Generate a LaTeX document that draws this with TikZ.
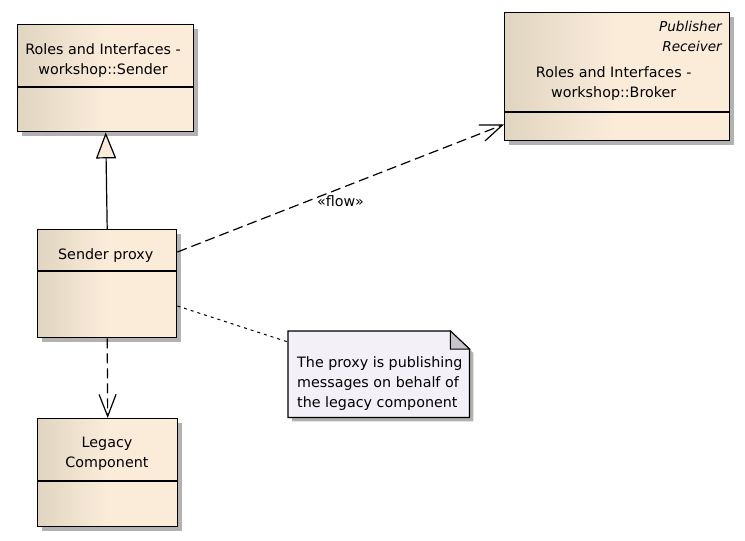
\documentclass[tikz,border=0pt]{standalone}
\usepackage{fontspec}
\setmainfont{DejaVu Sans}
\usepackage{xcolor}
\usetikzlibrary{arrows.meta}
\usetikzlibrary{shadows}
\usetikzlibrary{calc}

\definecolor{clsleft}{HTML}{E0D5C1}
\definecolor{clsright}{HTML}{FBECDA}
\definecolor{notefill}{HTML}{F4F0F7}
\definecolor{notefold}{HTML}{C8C4CC}
\definecolor{shadowgray}{HTML}{B2B2B2}

\begin{document}
\begin{tikzpicture}[x=1pt,y=-1pt,
	every node/.style={font=\fontsize{14.3}{20}\selectfont},
	umlclass/.style={draw,line width=1.4pt,anchor=north west,inner sep=0pt,
		left color=clsleft,right color=clsright,middle color=clsright,
		drop shadow={shadow xshift=4pt,shadow yshift=-4pt,fill=shadowgray,opacity=1}},
	umltext/.style={align=center,inner sep=0pt},
	dependency/.style={line width=1.2pt,dash pattern=on 10pt off 5pt,
		-{Straight Barb[length=22pt,width=17pt,line width=1.2pt]}},
	realize/.style={line width=1.2pt,-{Triangle[length=26pt,width=20pt,fill=clsright,line width=1.2pt]}},
	notelink/.style={line width=1pt,dash pattern=on 3pt off 4pt}]

	\fill[white] (0,0) rectangle (745,541);

	% classes
	\node[umlclass,minimum width=176pt,minimum height=107pt] (sender) at (17,24) {};
	\node[umlclass,minimum width=225pt,minimum height=128pt] (broker) at (504,12) {};
	\node[umlclass,minimum width=139pt,minimum height=108pt] (proxy) at (37,229) {};
	\node[umlclass,minimum width=140pt,minimum height=108pt] (legacy) at (37,418) {};

	\draw[line width=1.4pt] (sender.west |- 0,87) -- (sender.east |- 0,87);
	\draw[line width=1.4pt] (broker.west |- 0,112) -- (broker.east |- 0,112);
	\draw[line width=1.4pt] (proxy.west |- 0,271) -- (proxy.east |- 0,271);
	\draw[line width=1.4pt] (legacy.west |- 0,481) -- (legacy.east |- 0,481);

	\node[umltext] (sendername) at (103,60.2) {Roles and Interfaces -\\workshop::Sender};
	\node[umltext,align=right,anchor=east,font=\fontsize{13.6}{20}\selectfont\itshape] (brokerrole) at (722,36.8) {Publisher\\Receiver};
	\node[umltext] (brokername) at (613.7,84) {Roles and Interfaces -\\workshop::Broker};
	\node[umltext,anchor=base] (proxyname) at (105.7,259.3) {Sender proxy};
	\node[umltext] (legacyname) at (107,453.6) {Legacy\\Component};

	% note
	\node[anchor=north west,inner sep=0pt,minimum width=181pt,minimum height=86pt] (note) at (288,331) {};
	\fill[shadowgray,transform canvas={xshift=4pt,yshift=-4pt}] (note.north west) -- ($(note.north east)+(-19,0)$)
		-- ($(note.north east)+(0,18)$) -- (note.south east) -- (note.south west) -- cycle;
	\draw[fill=notefill,line width=1.2pt] (note.north west) -- ($(note.north east)+(-19,0)$)
		-- ($(note.north east)+(0,18)$) -- (note.south east) -- (note.south west) -- cycle;
	\draw[fill=notefold,line width=1pt] ($(note.north east)+(-19,0)$) -- ($(note.north east)+(-19,18)$)
		-- ($(note.north east)+(0,18)$) -- cycle;
	\node[umltext,align=left,anchor=west] (notetext) at (297,384) {The proxy is publishing\\messages on behalf of\\the legacy component};

	% connectors
	\draw[realize] (proxy.north) -- (sender.south);
	\draw[dependency] (proxy.south) -- (legacy.north);
	\draw[dependency] ($(proxy.north east)+(0,23)$) -- ($(broker.south west)+(0,-17)$);
	\draw[notelink] ($(proxy.north east)+(0,77)$) -- ($(note.north west)+(0,11)$);
	\node[umltext,anchor=base] (flowlabel) at (340.5,206.7) {«flow»};

\end{tikzpicture}
\end{document}
